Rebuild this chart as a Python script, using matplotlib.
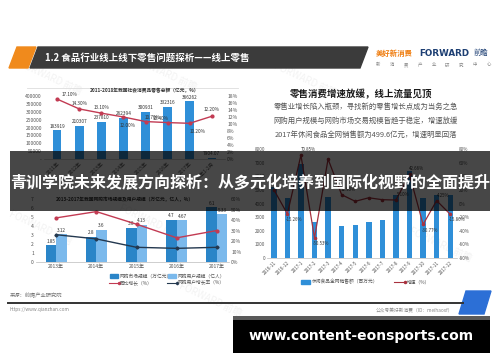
import matplotlib.pyplot as plt
import numpy as np
from matplotlib.patches import Polygon, Rectangle
from matplotlib.lines import Line2D

plt.rcParams['font.family'] = ['Noto Sans CJK SC', 'DejaVu Sans']
plt.rcParams['axes.unicode_minus'] = False

W, H = 500, 362

# 图1：2011-2018年社会消费品零售总额（亿元，%）
years1 = ['2011年', '2012年', '2013年', '2014年', '2015年', '2016年', '2017年', '2018年1-2月']
retail = [183919, 210307, 237810, 262394, 300931, 332316, 366262, 7904.07]
retail_growth = [17.10, 14.30, 13.10, 12.00, 10.70, 10.40, 10.20, 12.20]

# 图2：2013-2017年网购规模
years2 = ['2013年', '2014年', '2015年', '2016年', '2017年']
online_market = [1.85, 2.8, 3.8, 4.7, 6.1]
online_users = [3.12, 3.6, 4.13, 4.67, 5.33]
market_growth = [42, 48, 36, 23, 30]
user_growth = [26, 22, 14, 13, 14]

# 图3：休闲食品全网销售额（百万元）及增速
months = ['2016-11', '2016-12', '2017-1', '2017-2', '2017-3', '2017-4', '2017-5',
          '2017-6', '2017-7', '2017-8', '2017-9', '2017-10', '2017-11', '2017-12']
snack_sales = [5200, 4400, 6900, 2650, 4500, 2350, 2450, 2650, 2800, 4600, 6400, 4400, 4600, 4600]
snack_growth = [20.5, -15.26, 70.85, -50.53, 65.2, 12.93, 3.2, 8.4, 5.6, 5.10, 42.66, -30.77, 4.25, -15.86]
# 图上能看到数值标注的月份
snack_labelled = [1, 2, 3, 5, 9, 10, 11, 12, 13]

BLUE = '#2f8fd8'
LIGHT = '#7bb9ec'
RED = '#c23b53'
NAVY = '#23384f'
GRAY = '#555555'

fig = plt.figure(figsize=(5, 3.62), dpi=100)


def px_axes(x0, y0, x1, y1, z=2):
    ax = fig.add_axes([x0 / W, 1 - y1 / H, (x1 - x0) / W, (y1 - y0) / H])
    ax.set_zorder(z)
    return ax


def clean(ax, fs=3.8):
    for s in ax.spines.values():
        s.set_visible(False)
    ax.tick_params(length=0, labelsize=fs, labelcolor=GRAY, pad=1.5)
    ax.patch.set_alpha(0)


# 背景层
bg = fig.add_axes([0, 0, 1, 1])
bg.set_zorder(0)
bg.set_xlim(0, W)
bg.set_ylim(H, 0)
bg.axis('off')

# 水印（放在色块下面）
for (wx, wy) in [(50, 78), (165, 74), (305, 80), (40, 228), (150, 222), (440, 245), (210, 300)]:
    bg.text(wx, wy, 'FORWARD 前瞻', fontsize=7, color='#f3f3f3', rotation=-25,
            ha='center', va='center', zorder=0.5)

# 标题栏
bg.add_patch(Polygon([(17, 47), (36, 47), (28, 68), (9, 68)], closed=True, color='#f08a1c'))
bg.add_patch(Polygon([(38, 47), (368, 47), (360, 68), (30, 68)], closed=True, color='#3b3b3b'))
bg.text(45, 57.5, '1.2 食品行业线上线下零售问题探析——线上零售', color='white',
        fontsize=6.8, fontweight='bold', va='center', ha='left')

# logo
bg.text(376, 53, '美好新消费', color='#ef7d10', fontsize=5.3, fontweight='bold', va='center')
bg.text(419, 53, 'FORWARD', color='#1d3f73', fontsize=6.3, fontweight='bold', va='center',
        family=['DejaVu Sans'])
bg.text(474, 53, '前瞻', color='#1d3f73', fontsize=5.3, va='center')
for cx, ch in zip(np.linspace(378, 489, 9), '新消费产业研究中心'):
    bg.text(cx, 65, ch, color='#888888', fontsize=3.2, ha='center', va='center')

# 右上文字
bg.text(361, 94, '零售消费增速放缓，线上流量见顶', fontsize=6.8, fontweight='bold',
        ha='center', va='center', color='#1a1a1a')
for ty, line in zip([107, 121, 135], ['零售业增长陷入瓶颈，寻找新的零售增长点成为当务之急',
                                      '网购用户规模与网购市场交易规模皆趋于稳定，增速放缓',
                                      '2017年休闲食品全网销售额为499.6亿元，增速明显回落']):
    bg.text(366, ty, line, fontsize=5.3, ha='center', va='center', color=GRAY)

# 图框线与小标题
bg.plot([27, 238], [88, 88], color='#dddddd', lw=0.6)
bg.text(145, 91, '2011-2018年我国社会消费品零售总额（亿元，%）', fontsize=3.4,
        fontweight='bold', ha='center', va='center', color='#333333')
bg.text(125, 200, '2013-2017年我国网购市场规模及用户规模（万亿元，亿人，%）', fontsize=3.4,
        fontweight='bold', ha='center', va='center', color='#333333')

# ---------- 图1 ----------
ax1 = px_axes(44, 96, 225, 159)
x1 = np.arange(len(years1))
ax1.bar(x1, retail, 0.38, color=BLUE)
ax1.set_xlim(-0.6, 7.6)
ax1.set_ylim(0, 400000)
ax1.set_yticks(np.arange(0, 400001, 50000))
ax1.set_yticklabels(['-' if v == 0 else str(v) for v in np.arange(0, 400001, 50000)])
ax1.set_xticks(x1)
ax1.set_xticklabels(years1, rotation=45, ha='right', rotation_mode='anchor')
clean(ax1, 3.6)
ax1.spines['bottom'].set_visible(True)
ax1.spines['bottom'].set_color('#bbbbbb')
ax1.spines['bottom'].set_linewidth(0.5)
for xi, v in zip(x1, retail):
    ax1.text(xi, v + 9000, f'{v:g}', ha='center', va='bottom', fontsize=3.4, color='#333333')

ax1r = ax1.twinx()
ax1r.set_zorder(3)
ax1r.plot(x1, retail_growth, color=RED, lw=1, marker='o', ms=2)
ax1r.set_ylim(0, 18)
ax1r.set_yticks(np.arange(0, 19, 2))
ax1r.set_yticklabels([f'{v}%' for v in range(0, 19, 2)])
clean(ax1r, 3.6)
offs1 = [(9, 3), (0, 4), (0, 4), (3, -6), (5, 3), (-5, 3), (6, -6), (0, 5)]
for xi, v, (dx, dy) in zip(x1, retail_growth, offs1):
    ax1r.annotate(f'{v:.2f}%', (xi, v), xytext=(dx, dy), textcoords='offset points',
                  ha='center', va='center', fontsize=3.4, color='#333333')

# ---------- 图2 ----------
ax2 = px_axes(36, 199, 229, 262)
x2 = np.arange(len(years2))
ax2.bar(x2 - 0.13, online_market, 0.26, color='#2a85c8')
ax2.bar(x2 + 0.13, online_users, 0.26, color=LIGHT)
ax2.set_xlim(-0.5, 4.3)
ax2.set_ylim(0, 7)
ax2.set_yticks(range(0, 8))
ax2.set_xticks(x2)
ax2.set_xticklabels(years2)
clean(ax2, 3.6)
ax2.spines['bottom'].set_visible(True)
ax2.spines['bottom'].set_color('#bbbbbb')
ax2.spines['bottom'].set_linewidth(0.5)
for xi, a, b in zip(x2, online_market, online_users):
    ax2.text(xi - 0.13, a + 0.15, f'{a:g}', ha='center', va='bottom', fontsize=3.4, color='#333333')
    ax2.text(xi + 0.13, b + 0.15, f'{b:g}', ha='center', va='bottom', fontsize=3.4, color='#333333')

ax2r = ax2.twinx()
ax2r.set_zorder(3)
ax2r.plot(x2, market_growth, color=RED, lw=1, marker='o', ms=2)
ax2r.plot(x2, user_growth, color=NAVY, lw=1, marker='D', ms=1.6)
ax2r.set_ylim(0, 60)
ax2r.set_yticks(range(0, 61, 10))
ax2r.set_yticklabels([f'{v}%' for v in range(0, 61, 10)])
clean(ax2r, 3.6)

# 图2 图例
bg.add_patch(Rectangle((110, 274), 8, 3.5, color='#2a85c8'))
bg.text(120, 275.8, '网购市场规模（万亿元）', fontsize=3.4, va='center', color=GRAY)
bg.add_patch(Rectangle((168, 274), 8, 3.5, color=LIGHT))
bg.text(178, 275.8, '网购用户规模（亿人）', fontsize=3.4, va='center', color=GRAY)
bg.add_line(Line2D([109, 119], [283, 283], color=RED, lw=0.8, marker='o', ms=1.5, markevery=[1]))
bg.text(120, 283, '同比增长（%）', fontsize=3.4, va='center', color=GRAY)
bg.add_line(Line2D([167, 177], [283, 283], color=NAVY, lw=0.8, marker='D', ms=1.3, markevery=[1]))
bg.text(178, 283, '网购用户增长率（%）', fontsize=3.4, va='center', color=GRAY)

# ---------- 图3 ----------
ax3 = px_axes(267, 149, 457, 258)
x3 = np.arange(len(months))
ax3.bar(x3, snack_sales, 0.4, color=BLUE)
ax3.set_xlim(-0.5, 13.5)
ax3.set_ylim(0, 8000)
ax3.set_yticks(range(0, 8001, 1000))
ax3.set_xticks(x3)
ax3.set_xticklabels(months, rotation=45, ha='right', rotation_mode='anchor')
clean(ax3, 3.3)
ax3.spines['bottom'].set_visible(True)
ax3.spines['bottom'].set_color('#bbbbbb')
ax3.spines['bottom'].set_linewidth(0.5)

ax3r = ax3.twinx()
ax3r.set_zorder(3)
ax3r.plot(x3, snack_growth, color='#a8323f', lw=0.9, marker='o', ms=1.6)
ax3r.set_ylim(-80, 80)
ax3r.set_yticks(range(-80, 81, 20))
ax3r.set_yticklabels([f'{v}%' for v in range(-80, 81, 20)])
clean(ax3r, 3.3)
for i in snack_labelled:
    v = snack_growth[i]
    ax3r.annotate(f'{v:.2f}%', (x3[i], v), xytext=(5, -4 if v < 0 else 4), textcoords='offset points',
                  ha='center', va='center', fontsize=3.2, color='#333333')

# 图3 图例
bg.add_patch(Rectangle((301, 280), 9, 3.5, color=BLUE))
bg.text(312, 281.8, '休闲食品全网销售额（百万元）', fontsize=3.4, va='center', color=GRAY)
bg.add_line(Line2D([394, 405], [281.8, 281.8], color='#a8323f', lw=0.8, marker='o', ms=1.5,
                   markevery=[1]))
bg.text(407, 281.8, '增速（%）', fontsize=3.4, va='center', color=GRAY)

# 底部来源
bg.text(10, 296, '来源：前瞻产业研究院', fontsize=3.8, va='center', color='#777777')
bg.plot([8, 463], [303, 303], color='#333333', lw=1.4)
bg.text(10, 309, 'https://www.qianzhan.com', fontsize=3.4, va='center', color='#888888')
bg.text(453, 311, '公众号美好新消费（ID：meihaoxf）', fontsize=3.4, va='center', ha='right',
        color='#888888')
bg.add_patch(Polygon([(466, 291), (491, 291), (484, 314), (459, 314)], closed=True, color='#2c6fd6'))

# 覆盖层：横幅与网址
ov = fig.add_axes([0, 0, 1, 1])
ov.set_zorder(20)
ov.set_xlim(0, W)
ov.set_ylim(H, 0)
ov.axis('off')
ov.patch.set_alpha(0)
ov.add_patch(Rectangle((10, 151), 480, 60, color='black', alpha=0.72, lw=0))
ov.text(250, 183, '青训学院未来发展方向探析：从多元化培养到国际化视野的全面提升', color='white',
        fontsize=11.5, fontweight='bold', ha='center', va='center')
ov.add_patch(Rectangle((233, 316), 257, 37, color='black', lw=0))
ov.add_patch(Rectangle((233, 316), 257, 4, color='#5a5a5a', lw=0))
ov.text(361, 336, 'www.content-eonsports.com', color='white', fontsize=10, fontweight='bold',
        ha='center', va='center', family=['DejaVu Sans'])

fig.savefig('out.png', dpi=100)
